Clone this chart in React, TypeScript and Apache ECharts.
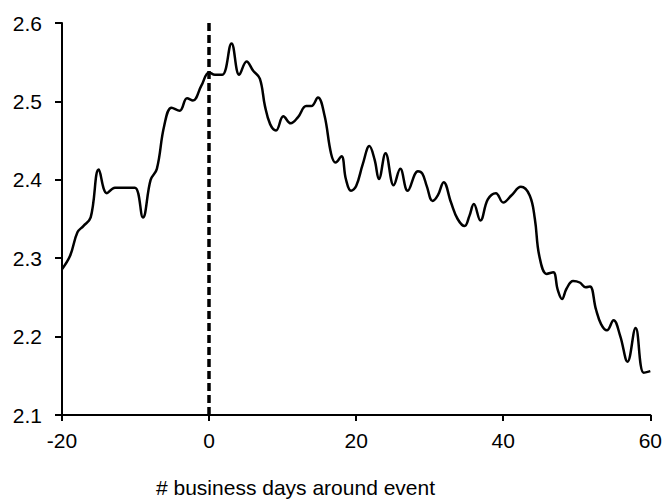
import React, { useEffect, useRef } from "react";
import * as echarts from "echarts";

const days = [
  -20, -18.9, -17.9, -17.1, -16.1, -15.0, -13.9, -12.8, -11.5, -10.1, -9.0, -7.95, -7.1, -6.1, -5.1,
  -4.0, -3.0, -2.2, -1.05, 0, 0.8, 1.8, 3.05, 4.1, 5.1, 6.0, 6.9, 7.6, 8.3, 9.1, 10.1, 11.1, 12.1,
  13.2, 13.9, 14.8, 15.7, 16.6, 17.2, 18.0, 18.6, 19.3, 20.0, 20.9, 21.8, 22.5, 23.1, 24.0, 25.1,
  26.0, 27.0, 28.4, 29.0, 29.6, 30.4, 31.1, 31.9, 32.9, 33.8, 34.75, 35.4, 36.0, 36.9, 37.9, 39.0,
  40.0, 41.1, 42.4, 43.6, 44.3, 44.9, 45.9, 46.8, 47.4, 48.0, 48.6, 49.5, 50.4, 51.2, 51.8, 52.6,
  53.3, 54.1, 55.0, 55.9, 56.9, 58.0, 59.1, 60,
];

const values = [
  2.286, 2.303, 2.333, 2.341, 2.352, 2.413, 2.383, 2.39, 2.39, 2.39, 2.352, 2.4, 2.414, 2.469, 2.492,
  2.488, 2.504, 2.501, 2.52, 2.537, 2.534, 2.534, 2.574, 2.534, 2.551, 2.539, 2.529, 2.494, 2.471,
  2.463, 2.481, 2.472, 2.48, 2.494, 2.494, 2.505, 2.482, 2.433, 2.422, 2.43, 2.401, 2.386, 2.392,
  2.42, 2.443, 2.426, 2.401, 2.434, 2.393, 2.414, 2.386, 2.411, 2.408, 2.392, 2.373, 2.38, 2.397,
  2.371, 2.35, 2.341, 2.354, 2.369, 2.348, 2.375, 2.383, 2.371, 2.38, 2.391, 2.38, 2.35, 2.303,
  2.28, 2.282, 2.26, 2.248, 2.261, 2.271, 2.269, 2.263, 2.264, 2.235, 2.216, 2.208, 2.221, 2.201,
  2.168, 2.211, 2.154, 2.156,
];

const eventDay = 0;
const xAxisTitle = "# business days around event";

const FONT = "'Liberation Sans', Arial, Helvetica, sans-serif";

export default function App() {
  const ref = useRef<HTMLDivElement>(null);

  useEffect(() => {
    document.body.style.margin = "0";
    if (!ref.current) return;
    const chart = echarts.init(ref.current, undefined, { renderer: "svg" });
    const data = days.map((d, i) => [d, values[i]]);
    chart.setOption({
      animation: false,
      backgroundColor: "#ffffff",
      grid: { left: 62, right: 14, top: 23, bottom: 86, containLabel: false },
      xAxis: {
        type: "value",
        min: -20,
        max: 60,
        interval: 20,
        splitLine: { show: false },
        axisLine: { onZero: false, lineStyle: { color: "#000", width: 2 } },
        axisTick: { show: true, inside: false, length: 6, lineStyle: { color: "#000", width: 2 } },
        axisLabel: { color: "#000", fontSize: 21, fontFamily: FONT, margin: 15 },
      },
      yAxis: {
        type: "value",
        min: 2.1,
        max: 2.6,
        interval: 0.1,
        splitLine: { show: false },
        axisLine: { show: true, onZero: false, lineStyle: { color: "#000", width: 2 } },
        axisTick: { show: true, inside: false, length: 7, lineStyle: { color: "#000", width: 2 } },
        axisLabel: {
          color: "#000",
          fontSize: 21,
          fontFamily: FONT,
          margin: 20,
          formatter: (v: number) => v.toFixed(1),
        },
      },
      graphic: [
        {
          type: "text",
          left: 156,
          top: 477,
          style: {
            text: xAxisTitle,
            fill: "#000",
            fontSize: 21,
            fontFamily: FONT,
          },
        },
      ],
      series: [
        {
          type: "line",
          data,
          smooth: 0.4,
          showSymbol: false,
          symbol: "none",
          lineStyle: { color: "#000", width: 2.5 },
          z: 3,
          markLine: {
            silent: true,
            symbol: "none",
            label: { show: false },
            lineStyle: { color: "#000", width: 3.5, type: [8, 4] },
            data: [{ xAxis: eventDay }],
          },
        },
      ],
    });
    return () => chart.dispose();
  }, []);

  return <div ref={ref} style={{ width: 665, height: 501 }} />;
}
